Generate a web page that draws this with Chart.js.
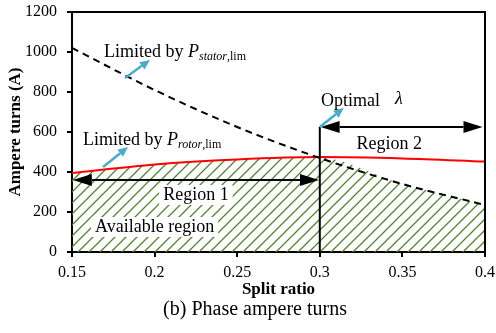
<!DOCTYPE html>
<html>
<head>
<meta charset="utf-8">
<script src="https://cdn.jsdelivr.net/npm/chart.js@4/dist/chart.umd.min.js"></script>
<style>
  html, body { margin: 0; padding: 0; background: #fff; }
  canvas { display: block; }
</style>
</head>
<body>
<canvas id="ampereChart" width="496" height="333"></canvas>
<script>
// 読み取った値
const splitRatio = [0.15, 0.2, 0.25, 0.3, 0.35, 0.4];
const statorAmpereTurns = [1020, 810, 625, 470, 340, 235];
const rotorAmpereTurns = [395, 438, 463, 475, 468, 452];
const availableRatio = [0.15, 0.2, 0.25, 0.298, 0.35, 0.4];
const availableTop = [395, 438, 463, 474, 340, 235];
const xTickLabels = ['0.15', '0.2', '0.25', '0.3', '0.35', '0.4'];
const yTickLabels = ['0', '200', '400', '600', '800', '1000', '1200'];

const SERIF = '"Liberation Serif", "Times New Roman", serif';
const HATCH = '#548235';
const CYAN = '#4bacc6';

function toPoints(xs, ys) {
    return xs.map((x, i) => ({ x: x, y: ys[i] }));
}

function makeHatch() {
    const s = 11;
    const c = document.createElement('canvas');
    c.width = s; c.height = s;
    const g = c.getContext('2d');
    g.strokeStyle = HATCH;
    g.lineWidth = 1.3;
    g.beginPath();
    g.moveTo(0, s); g.lineTo(s, 0);
    g.moveTo(-s / 2, s / 2); g.lineTo(s / 2, -s / 2);
    g.moveTo(s / 2, s * 1.5); g.lineTo(s * 1.5, s / 2);
    g.stroke();
    return g.createPattern(c, 'repeat');
}

function limitLabel(ctx, x, y, sub) {
    ctx.font = '18px ' + SERIF;
    ctx.fillText('Limited by ', x, y);
    x += ctx.measureText('Limited by ').width;
    ctx.font = 'italic 18px ' + SERIF;
    ctx.fillText('P', x, y);
    x += ctx.measureText('P').width;
    ctx.font = 'italic 12px ' + SERIF;
    ctx.fillText(sub, x, y + 3);
    x += ctx.measureText(sub).width;
    ctx.font = '12px ' + SERIF;
    ctx.fillText(',lim', x, y + 3);
}

function boxedText(ctx, text, cx, y) {
    ctx.font = '18px ' + SERIF;
    const w = ctx.measureText(text).width;
    ctx.fillStyle = '#fff';
    ctx.fillRect(cx - w / 2 - 4, y - 15, w + 8, 20);
    ctx.fillStyle = '#000';
    ctx.textAlign = 'center';
    ctx.fillText(text, cx, y);
    ctx.textAlign = 'left';
}

function doubleArrow(ctx, x1, x2, y) {
    const len = 19, half = 6;
    ctx.strokeStyle = '#000';
    ctx.fillStyle = '#000';
    ctx.lineWidth = 2;
    ctx.beginPath();
    ctx.moveTo(x1 + len, y); ctx.lineTo(x2 - len, y);
    ctx.stroke();
    ctx.beginPath();
    ctx.moveTo(x1, y); ctx.lineTo(x1 + len, y - half); ctx.lineTo(x1 + len, y + half);
    ctx.closePath(); ctx.fill();
    ctx.beginPath();
    ctx.moveTo(x2, y); ctx.lineTo(x2 - len, y - half); ctx.lineTo(x2 - len, y + half);
    ctx.closePath(); ctx.fill();
}

function cyanArrow(ctx, x1, y1, x2, y2) {
    const ang = Math.atan2(y2 - y1, x2 - x1);
    const len = 10, half = 4.5;
    const bx = x2 - len * Math.cos(ang), by = y2 - len * Math.sin(ang);
    ctx.strokeStyle = CYAN;
    ctx.fillStyle = CYAN;
    ctx.lineWidth = 2.5;
    ctx.beginPath();
    ctx.moveTo(x1, y1); ctx.lineTo(bx, by);
    ctx.stroke();
    ctx.beginPath();
    ctx.moveTo(x2, y2);
    ctx.lineTo(bx + half * Math.sin(ang), by - half * Math.cos(ang));
    ctx.lineTo(bx - half * Math.sin(ang), by + half * Math.cos(ang));
    ctx.closePath(); ctx.fill();
}

// 注釈（矢印・テキスト・枠・キャプション）
const annotations = {
    id: 'annotations',
    afterDatasetsDraw(chart) {
        const { ctx, chartArea: a, scales } = chart;
        const px = v => scales.x.getPixelForValue(v);
        const py = v => scales.y.getPixelForValue(v);
        ctx.save();

        // top / right frame
        ctx.strokeStyle = '#000';
        ctx.lineWidth = 2;
        ctx.beginPath();
        ctx.moveTo(a.left, a.top); ctx.lineTo(a.right, a.top); ctx.lineTo(a.right, a.bottom);
        ctx.stroke();

        // optimal split ratio line
        ctx.beginPath();
        ctx.moveTo(px(0.3), py(0)); ctx.lineTo(px(0.3), py(625));
        ctx.stroke();

        boxedText(ctx, 'Region 1', px(0.225), py(260));
        boxedText(ctx, 'Available region', px(0.2), py(100));

        ctx.fillStyle = '#000';
        ctx.textAlign = 'center';
        ctx.font = '18px ' + SERIF;
        ctx.fillText('Region 2', px(0.342), py(515));
        ctx.textAlign = 'left';
        ctx.fillText('Optimal', px(0.3007), py(730));
        ctx.font = 'italic 18px ' + SERIF;
        ctx.fillText('\u03bb', px(0.3455), py(740));

        limitLabel(ctx, px(0.1694), py(975), 'stator');
        limitLabel(ctx, px(0.1567), py(535), 'rotor');

        doubleArrow(ctx, px(0.1505), px(0.2995), py(360));
        doubleArrow(ctx, px(0.3005), px(0.3985), py(625));

        cyanArrow(ctx, px(0.1821), py(870), px(0.1972), py(960));
        cyanArrow(ctx, px(0.1688), py(425), px(0.1839), py(525));
        cyanArrow(ctx, px(0.3), py(625), px(0.3145), py(720));

        ctx.restore();
    },
    afterDraw(chart) {
        const ctx = chart.ctx;
        ctx.save();
        ctx.fillStyle = '#000';
        ctx.font = '20px ' + SERIF;
        ctx.textAlign = 'center';
        ctx.fillText('(b) Phase ampere turns', 255, 315);
        ctx.restore();
    }
};

window.addEventListener('DOMContentLoaded', () => {
    const ctx = document.getElementById('ampereChart').getContext('2d');
    new Chart(ctx, {
        type: 'line',
        data: {
            datasets: [{
                label: 'P_stator,lim',
                data: toPoints(splitRatio, statorAmpereTurns),
                borderColor: '#000',
                borderWidth: 2,
                borderDash: [7, 5],
                pointRadius: 0,
                cubicInterpolationMode: 'monotone',
                fill: false
            }, {
                label: 'P_rotor,lim',
                data: toPoints(splitRatio, rotorAmpereTurns),
                borderColor: '#ff0000',
                borderWidth: 2,
                pointRadius: 0,
                cubicInterpolationMode: 'monotone',
                fill: false
            }, {
                label: 'Available region',
                data: toPoints(availableRatio, availableTop),
                borderWidth: 0,
                borderColor: 'rgba(0,0,0,0)',
                backgroundColor: makeHatch(),
                pointRadius: 0,
                cubicInterpolationMode: 'monotone',
                fill: 'origin'
            }]
        },
        options: {
            responsive: false,
            animation: false,
            devicePixelRatio: 1,
            layout: { padding: { left: 0, right: 11, top: 12, bottom: 0 } },
            plugins: {
                legend: { display: false },
                tooltip: { enabled: false }
            },
            scales: {
                x: {
                    type: 'linear',
                    min: 0.15, max: 0.4,
                    afterFit: s => { s.height = 81; s.paddingLeft = 0; s.paddingRight = 0; },
                    border: { color: '#000', width: 2 },
                    grid: { display: true, drawOnChartArea: false, drawTicks: true, tickLength: 5, color: '#000', lineWidth: 2 },
                    ticks: {
                        stepSize: 0.05, padding: 6, color: '#000',
                        font: { family: SERIF, size: 16 },
                        maxRotation: 0,
                        callback: (v, i) => xTickLabels[i]
                    },
                    title: {
                        display: true, text: 'Split ratio', color: '#000',
                        font: { family: SERIF, size: 17, weight: 'bold' },
                        padding: { top: 0, bottom: 33 }
                    }
                },
                y: {
                    min: 0, max: 1200,
                    afterFit: s => { s.width = 72; s.paddingTop = 0; s.paddingBottom = 0; },
                    border: { color: '#000', width: 2 },
                    grid: { display: true, drawOnChartArea: false, drawTicks: true, tickLength: 5, color: '#000', lineWidth: 2 },
                    ticks: {
                        stepSize: 200, padding: 10, color: '#000',
                        font: { family: SERIF, size: 16 },
                        callback: (v, i) => yTickLabels[i]
                    },
                    title: {
                        display: true, text: 'Ampere turns (A)', color: '#000',
                        font: { family: SERIF, size: 17, weight: 'bold' },
                        padding: { top: 5, bottom: 0 }
                    }
                }
            }
        },
        plugins: [annotations]
    });
});
</script>
</body>
</html>
